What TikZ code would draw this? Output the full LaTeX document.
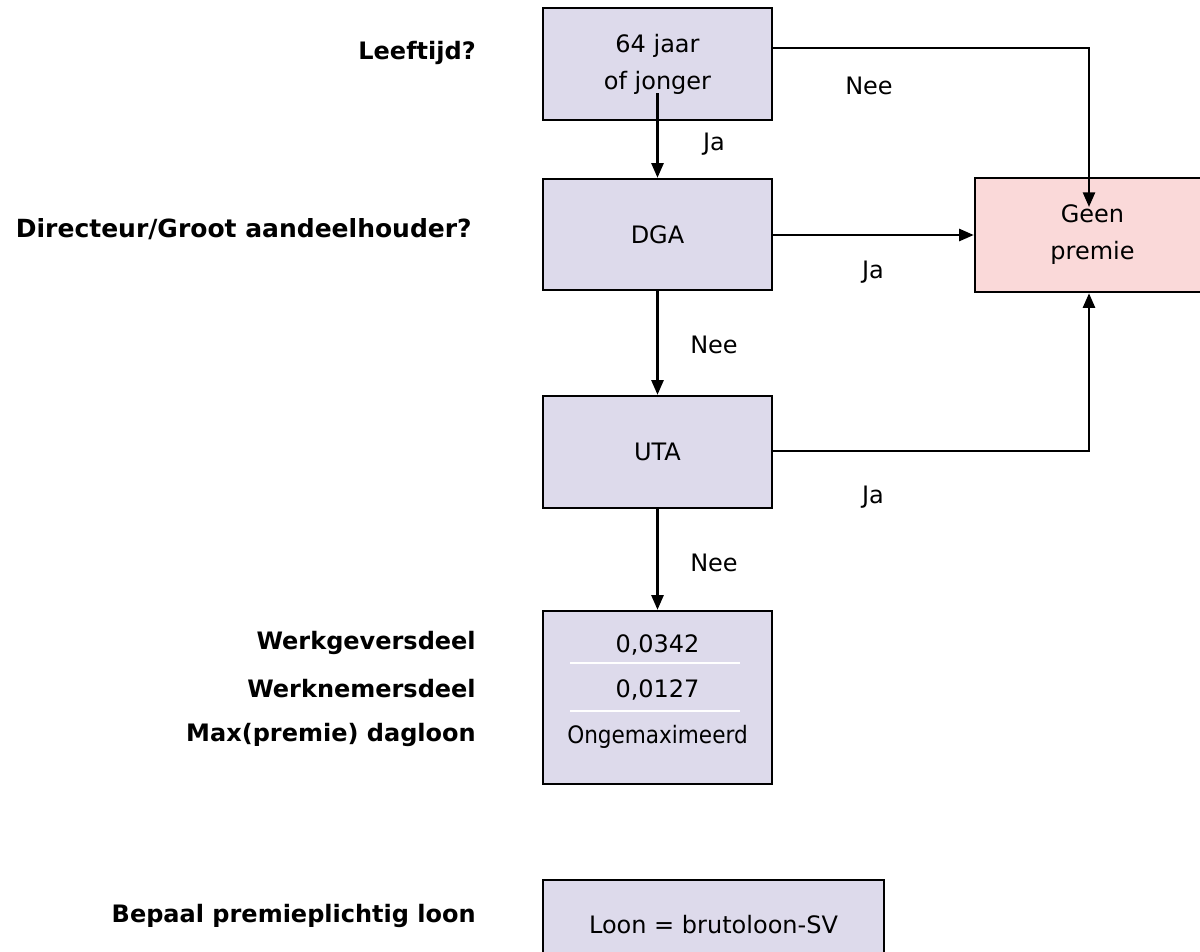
\documentclass[tikz,border=0pt]{standalone}
\usepackage{fontspec}
\setmainfont{DejaVu Sans}
\newfontfamily\condfont{DejaVu Sans Condensed}
\usetikzlibrary{arrows.meta}
\definecolor{boxfill}{RGB}{221,218,235}
\definecolor{pinkfill}{RGB}{250,217,217}
\tikzset{
  box/.style={draw=black, line width=1.8pt, fill=boxfill, rectangle, inner sep=0pt, align=center,
    font=\fontsize{18}{27.75}\selectfont},
  pinkbox/.style={box, fill=pinkfill},
  conn/.style={draw=black, line width=1.9pt, -{Triangle[length=11pt,width=9pt]}},
  lab/.style={font=\fontsize{18}{22}\selectfont, inner sep=0pt},
  side/.style={font=\fontsize{18}{22}\selectfont\bfseries, inner sep=0pt, anchor=east},
}
\begin{document}
\begin{tikzpicture}[x=0.75pt,y=-0.75pt]
\useasboundingbox (0,0) rectangle (1200,951);
\clip (0,0) rectangle (1200,951);
\fill[white] (0,0) rectangle (1200,951);
% boxes
\node[box, minimum width=171.75pt, minimum height=84pt] (b1) at (657.5,64) {64 jaar\\of jonger};
\node[box, minimum width=171.75pt, minimum height=83.25pt] (dga) at (657.5,234.5) {DGA};
\node[box, minimum width=171.75pt, minimum height=84pt] (uta) at (657.5,452) {UTA};
\node[box, minimum width=171.75pt, minimum height=129.75pt] (val) at (657.5,697.5) {};
\node[box, minimum width=255.75pt, minimum height=67.5pt] (loon) at (713.5,925) {Loon = brutoloon-SV};
\node[pinkbox, minimum width=176.25pt, minimum height=85.5pt] (geen) at (1092.5,235) {Geen\\premie};
% values inside
\node[lab] (v1) at (657.5,645) {0,0342};
\draw[white, line width=1.6pt] (570,663) -- (740,663);
\node[lab] (v2) at (657.5,690) {0,0127};
\draw[white, line width=1.6pt] (570,711) -- (740,711);
\node[lab, font=\fontsize{18}{22}\condfont] (v3) at (657.5,737) {Ongemaximeerd};
% connectors
\coordinate (s1) at (657.5,93);
\coordinate (c1) at (1089,48);
\coordinate (t1) at (1089,207);
\coordinate (c2) at (1089,451);
\draw[conn] (s1) -- (s1 |- dga.north);
\draw[conn] (b1.east |- c1) -- (c1) -- (t1);
\draw[conn] (dga.east |- 0,235) -- (geen.west |- 0,235);
\draw[conn] (dga.south) -- (uta.north);
\draw[conn] (uta.east |- c2) -- (c2) -- (c2 |- geen.south);
\draw[conn] (uta.south) -- (val.north);
% connector labels
\node[lab] (l1) at (869,86) {Nee};
\node[lab] (l2) at (714,144) {Ja};
\node[lab] (l3) at (873,272) {Ja};
\node[lab] (l4) at (714,345) {Nee};
\node[lab] (l5) at (873,497) {Ja};
\node[lab] (l6) at (714,563) {Nee};
% side labels
\node[side] (q1) at (476,53) {Leeftijd?};
\node[side, font=\fontsize{18.75}{22}\selectfont\bfseries] (q2) at (472,229) {Directeur/Groot aandeelhouder?};
\node[side] (q3) at (476,643) {Werkgeversdeel};
\node[side] (q4) at (476,689) {Werknemersdeel};
\node[side] (q5) at (476,735) {Max(premie) dagloon};
\node[side] (q6) at (476,916) {Bepaal premieplichtig loon};
\end{tikzpicture}
\end{document}
